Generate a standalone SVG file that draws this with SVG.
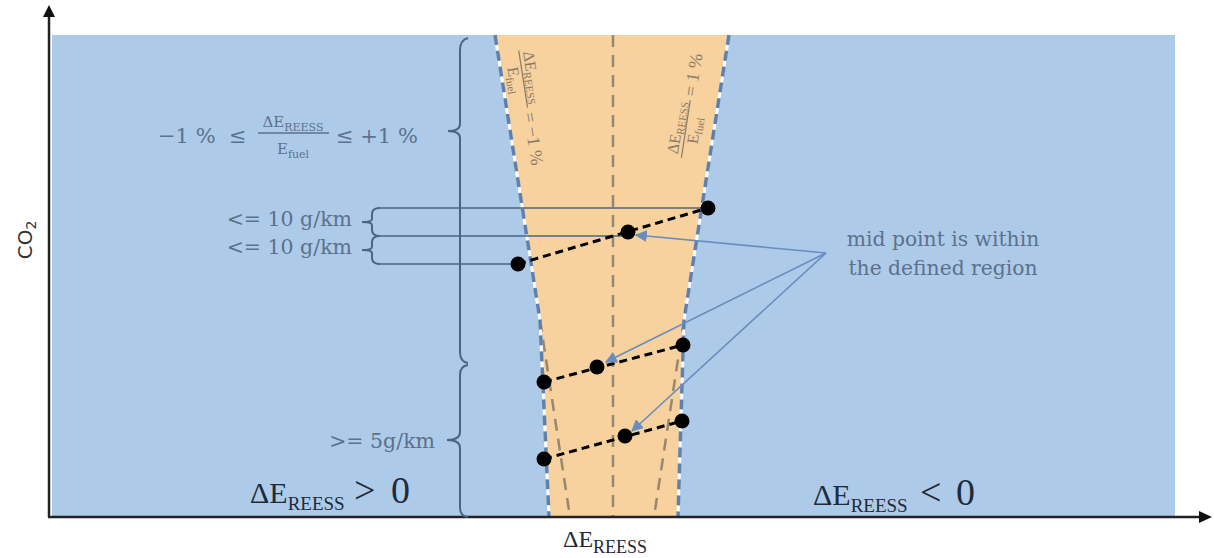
<svg xmlns="http://www.w3.org/2000/svg" width="1214" height="558" viewBox="0 0 1214 558">
<style>
.lbl{font-family:"DejaVu Serif","Liberation Serif",serif;fill:#5b718c}
.dark{font-family:"Liberation Serif",serif;fill:#1f2b3a}
.rot{font-family:"Liberation Serif",serif;fill:#8b7b66}
.bound{fill:none;stroke:#5f80aa;stroke-width:3.5;stroke-dasharray:10 6}
.boundw{fill:none;stroke:#ffffff;stroke-width:3}
.brown{fill:none;stroke:#968771;stroke-width:2.5;stroke-dasharray:12 8}
.hline{fill:none;stroke:#4a6580;stroke-width:1.6}
.brace{fill:none;stroke:#4a6580;stroke-width:2}
.pair{fill:none;stroke:#000;stroke-width:3;stroke-dasharray:8 5}
.arr{fill:none;stroke:#6a8cc0;stroke-width:1.6;marker-end:url(#ah)}
.dot{fill:#000}
</style>
<defs>
<marker id="ah" viewBox="0 0 10 10" refX="9" refY="5" markerWidth="12" markerHeight="12" markerUnits="userSpaceOnUse" orient="auto">
<path d="M0,0 L10,5 L0,10 Z" fill="#6a8cc0"/>
</marker>
</defs>
<g id="background">
<rect x="52" y="35" width="1123" height="482" fill="#adcbe8"/>
<polygon points="495,35 729,35 684,320 678,517 549,517 540,320" fill="#f7d19e"/>
</g>
<g id="region-lines">
<line x1="613" y1="35" x2="613" y2="517" class="brown"/>
<polyline points="540,320 570,517" class="brown"/>
<polyline points="684,320 654,517" class="brown"/>
<polyline points="495,35 540,320 549,517" class="boundw"/>
<polyline points="495,35 540,320 549,517" class="bound"/>
<polyline points="729,35 684,320 678,517" class="boundw"/>
<polyline points="729,35 684,320 678,517" class="bound"/>
</g>
<g id="axes">
<line x1="49" y1="517" x2="49" y2="16" stroke="#222" stroke-width="2.5"/>
<polygon points="49,5 43,17 55,17" fill="#111"/>
<line x1="48" y1="517" x2="1200" y2="517" stroke="#222" stroke-width="2.5"/>
<polygon points="1212,517 1199,511 1199,523" fill="#111"/>
</g>
<g id="connectors">
<line x1="378" y1="208" x2="708" y2="208" class="hline"/>
<line x1="378" y1="236" x2="628" y2="236" class="hline"/>
<line x1="378" y1="264" x2="518" y2="264" class="hline"/>
<path d="M380,208 Q372,208 372,214 L372,219 Q372,222 362,222 Q372,222 372,225 L372,230 Q372,236 380,236" class="brace"/>
<path d="M380,236 Q372,236 372,242 L372,247 Q372,250 362,250 Q372,250 372,253 L372,258 Q372,264 380,264" class="brace"/>
<path d="M468,38 Q460,40 460,50 L460,124 Q460,131 448,131 Q460,131 460,138 L460,352 Q460,362 468,363" class="brace"/>
<path d="M468,365 Q460,366 460,375 L460,432 Q460,440 447,440 Q460,440 460,448 L460,508 Q460,516 468,517" class="brace"/>
<line x1="518" y1="264" x2="708" y2="208" class="pair"/>
<line x1="544" y1="382" x2="683" y2="345" class="pair"/>
<line x1="544" y1="459" x2="682" y2="421" class="pair"/>
<line x1="826" y1="253" x2="636" y2="235" class="arr"/>
<line x1="826" y1="253" x2="606" y2="362" class="arr"/>
<line x1="826" y1="253" x2="632" y2="431" class="arr"/>
</g>
<g id="points">
<circle cx="708" cy="208" r="7.5" class="dot"/>
<circle cx="628" cy="232" r="7.5" class="dot"/>
<circle cx="518" cy="264" r="7.5" class="dot"/>
<circle cx="683" cy="345" r="7.5" class="dot"/>
<circle cx="597" cy="367" r="7.5" class="dot"/>
<circle cx="544" cy="382" r="7.5" class="dot"/>
<circle cx="682" cy="421" r="7.5" class="dot"/>
<circle cx="625" cy="436" r="7.5" class="dot"/>
<circle cx="544" cy="459" r="7.5" class="dot"/>
</g>
<g id="label-range">
<text x="158" y="143" class="lbl" font-size="21">−1 %</text>
<text x="229" y="143" class="lbl" font-size="21">≤</text>
<text x="293" y="127" class="lbl" font-size="15" text-anchor="middle">ΔE<tspan font-size="11" dy="4">REESS</tspan></text>
<line x1="258" y1="133" x2="329" y2="133" stroke="#5b718c" stroke-width="1.3"/>
<text x="293" y="154" class="lbl" font-size="15" text-anchor="middle">E<tspan font-size="11" dy="4">fuel</tspan></text>
<text x="336" y="143" class="lbl" font-size="21">≤ +1 %</text>
</g>
<g id="label-10a"><text x="352" y="226" class="lbl" font-size="20.5" text-anchor="end">&lt;= 10 g/km</text></g>
<g id="label-10b"><text x="352" y="254" class="lbl" font-size="20.5" text-anchor="end">&lt;= 10 g/km</text></g>
<g id="label-5"><text x="435" y="448" class="lbl" font-size="20.5" text-anchor="end">&gt;= 5g/km</text></g>
<g id="label-mid">
<text x="943" y="246" class="lbl" font-size="20.3" text-anchor="middle">mid point is within</text>
<text x="943" y="275" class="lbl" font-size="20.3" text-anchor="middle">the defined region</text>
</g>
<g id="label-minus1" transform="translate(518.7,50.3) rotate(81.2)">
<text x="29" y="-4" class="rot" font-size="16" text-anchor="middle">ΔE<tspan font-size="11" dy="3">REESS</tspan></text>
<line x1="0" y1="0" x2="58" y2="0" stroke="#8b7b66" stroke-width="1.2"/>
<text x="29" y="14" class="rot" font-size="16" text-anchor="middle">E<tspan font-size="11" dy="3">fuel</tspan></text>
<text x="63" y="5" class="rot" font-size="18">= −1 %</text>
</g>
<g id="label-plus1" transform="translate(681.4,157.6) rotate(-81.2)">
<text x="29" y="-4" class="rot" font-size="16" text-anchor="middle">ΔE<tspan font-size="11" dy="3">REESS</tspan></text>
<line x1="0" y1="0" x2="58" y2="0" stroke="#8b7b66" stroke-width="1.2"/>
<text x="29" y="14" class="rot" font-size="16" text-anchor="middle">E<tspan font-size="11" dy="3">fuel</tspan></text>
<text x="62" y="5" class="rot" font-size="18">= 1 %</text>
</g>
<g id="label-pos">
<text x="250" y="503" class="dark" font-size="30">ΔE<tspan font-size="19" dy="7">REESS</tspan></text>
<text x="354" y="503" class="dark" font-size="38">&gt;</text>
<text x="391" y="503" class="dark" font-size="38">0</text>
</g>
<g id="label-neg">
<text x="813" y="505" class="dark" font-size="30">ΔE<tspan font-size="19" dy="7">REESS</tspan></text>
<text x="920" y="505" class="dark" font-size="38">&lt;</text>
<text x="956" y="505" class="dark" font-size="38">0</text>
</g>
<g id="label-xaxis"><text x="563" y="547" class="dark" font-size="24">ΔE<tspan font-size="18" dy="6">REESS</tspan></text></g>
<g id="label-yaxis" transform="translate(32,240) rotate(-90)"><text x="0" y="0" font-family="DejaVu Sans, sans-serif" font-size="20" fill="#333" text-anchor="middle">CO<tspan font-size="14" dy="4">2</tspan></text></g>
</svg>
